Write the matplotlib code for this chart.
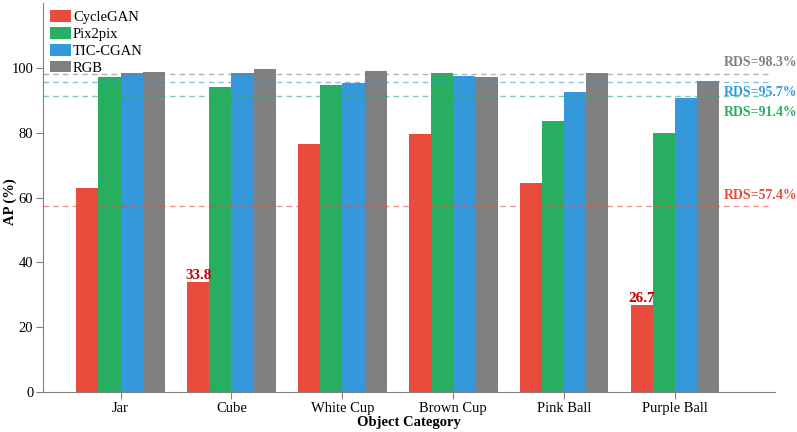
import matplotlib
matplotlib.use("Agg")
import matplotlib.pyplot as plt
import numpy as np

plt.rcParams['font.family'] = ['Liberation Serif', 'DejaVu Serif']

categories = ["Jar", "Cube", "White Cup", "Brown Cup", "Pink Ball", "Purple Ball"]
methods = ["CycleGAN", "Pix2pix", "TIC-CGAN", "RGB"]
cyclegan = [63.0, 33.8, 76.5, 79.5, 64.5, 26.7]
pix2pix = [97.2, 94.2, 94.8, 98.4, 83.5, 79.8]
tic_cgan = [98.5, 98.5, 95.5, 97.6, 92.7, 90.8]
rgb = [98.8, 99.6, 99.0, 97.1, 98.6, 96.0]
rds = [57.4, 91.4, 95.7, 98.3]
colors = ["#e74c3c", "#27ae60", "#3498db", "#808080"]

series = [cyclegan, pix2pix, tic_cgan, rgb]

fig = plt.figure(figsize=(7.97, 4.32), dpi=100)
ax = fig.add_axes([0.054, 0.0926, 0.918, 0.9])

x = np.arange(len(categories))
w = 0.2
for i, (vals, c, m) in enumerate(zip(series, colors, methods)):
    ax.bar(x + (i - 1.5) * w, vals, w, color=c, label=m)

# annotate low CycleGAN values
for xi, v in zip(x, cyclegan):
    if v < 40:
        ax.text(xi - 1.5 * w, v + 0.2, f"{v}", ha='center', va='bottom',
                color='#c00000', fontsize=11, fontweight='bold')

# RDS lines
label_offsets = [3.4, -5.0, -3.2, 3.5]  # red, green, blue, gray
for r, c, off in zip(rds, colors, label_offsets):
    ax.axhline(r, color=c, linestyle=(0, (4, 3)), linewidth=1, alpha=0.6,
               xmin=0, xmax=0.995)
    ax.text(5.44, r + off, f"RDS={r}%", color=c, fontsize=10, fontweight='bold',
            ha='left', va='center', clip_on=False)

ax.set_xlim(-0.7, 5.9)
ax.set_ylim(0, 120)
ax.set_yticks([0, 20, 40, 60, 80, 100])
ax.set_xticks(x)
ax.set_xticklabels(categories)
ax.tick_params(labelsize=10.5, color='#808080', length=5, pad=2)
ax.set_xlabel("Object Category", fontsize=10.5, fontweight='bold', labelpad=1)
ax.set_ylabel("AP (%)", fontsize=10.5, fontweight='bold')
ax.yaxis.set_label_coords(-0.036, 0.49)
for s in ['top', 'right']:
    ax.spines[s].set_visible(False)
for s in ['left', 'bottom']:
    ax.spines[s].set_color('#808080')

ax.legend(loc='upper left', frameon=False, fontsize=10.5, handlelength=1.45,
          handleheight=0.85, handletextpad=0.1, labelspacing=0.2,
          borderaxespad=0.2, borderpad=0.3, bbox_to_anchor=(0.0, 1.0))

fig.savefig("out.png", dpi=100)
